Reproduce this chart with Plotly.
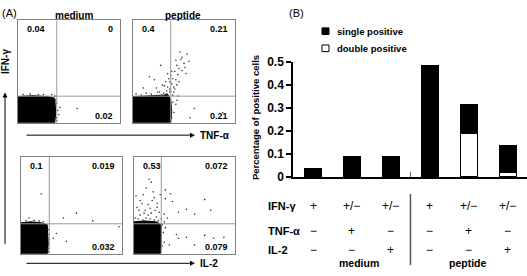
import plotly.graph_objects as go

W, H = 527, 276
FONT = "Liberation Sans, Arial, sans-serif"

# ---------------- Panel B data ----------------
bar_pos = [0, 1, 2, 3, 4, 5]
double_positive = [0.0, 0.0, 0.004, 0.0, 0.19, 0.022]
single_positive = [0.036, 0.09, 0.086, 0.483, 0.125, 0.115]
ifn_row = ["+", "+/−", "+/−", "+", "+/−", "+/−"]
tnf_row = ["−", "+", "−", "−", "+", "−"]
il2_row = ["−", "−", "+", "−", "−", "+"]
row_names = ["IFN-γ", "TNF-α", "IL-2"]
groups = ["medium", "peptide"]
y_ticks = [0, 0.1, 0.2, 0.3, 0.4, 0.5]
y_tick_labels = ["0", "0.1", "0.2", "0.3", "0.4", "0.5"]

# ---------------- Panel A data (normalised channel units 0..1) ----------------
panel_titles = ["medium", "peptide"]
# quadrant percentages: upper-left, upper-right, lower-right
quad_vals = [["0.04", "0", "0.02"],
             ["0.4", "0.21", "0.21"],
             ["0.1", "0.019", "0.032"],
             ["0.53", "0.072", "0.079"]]
quad_gates = [(0.38, 0.26), (0.37, 0.26), (0.28, 0.31), (0.27, 0.31)]

blob_a1 = [(0, 0), (0.36, 0), (0.37, 0.10), (0.36, 0.24), (0.30, 0.255), (0.15, 0.265), (0.05, 0.26), (0, 0.255)]
blob_a2 = [(0, 0), (0.37, 0), (0.38, 0.12), (0.37, 0.22), (0.34, 0.28), (0.30, 0.27), (0.2, 0.265), (0.08, 0.26), (0, 0.255)]
blob_a3 = [(0, 0), (0.26, 0), (0.27, 0.10), (0.26, 0.30), (0.2, 0.32), (0.1, 0.33), (0, 0.32)]
blob_a4 = [(0, 0), (0.26, 0), (0.27, 0.10), (0.27, 0.30), (0.22, 0.33), (0.1, 0.34), (0, 0.33)]

dots_a1 = [(0.58, 0.14), (0.38, 0.05), (0.39, 0.12), (0.38, 0.19), (0.40, 0.08), (0.37, 0.22),
           (0.33, 0.275), (0.25, 0.275), (0.12, 0.28), (0.05, 0.275), (0.20, 0.275), (0.41, 0.15),
           (0.38, 0.02), (0.36, 0.26)]
dots_a2 = [(0.46, 0.69), (0.48, 0.64), (0.53, 0.67), (0.42, 0.61), (0.43, 0.56), (0.45, 0.53),
           (0.38, 0.50), (0.37, 0.46), (0.35, 0.43), (0.32, 0.40), (0.34, 0.48), (0.29, 0.37),
           (0.27, 0.56), (0.16, 0.45), (0.21, 0.42), (0.23, 0.34), (0.10, 0.34), (0.38, 0.38),
           (0.42, 0.42), (0.48, 0.51), (0.51, 0.54), (0.40, 0.30), (0.43, 0.22), (0.42, 0.18),
           (0.56, 0.05), (0.50, 0.58), (0.44, 0.47), (0.40, 0.35), (0.36, 0.33), (0.33, 0.31),
           (0.30, 0.29), (0.26, 0.30), (0.31, 0.36), (0.39, 0.27), (0.41, 0.33), (0.45, 0.40),
           (0.03, 0.28), (0.08, 0.27), (0.13, 0.29), (0.18, 0.28), (0.24, 0.30), (0.28, 0.27),
           (0.33, 0.28), (0.36, 0.30), (0.39, 0.20), (0.40, 0.10), (0.38, 0.05), (0.55, 0.60),
           (0.60, 0.14), (0.88, 0.10), (0.47, 0.62), (0.52, 0.48), (0.36, 0.40), (0.44, 0.26),
           (0.34, 0.35), (0.37, 0.31), (0.39, 0.43), (0.41, 0.50), (0.43, 0.37), (0.35, 0.26)]
dots_a3 = [(0.20, 0.62), (0.55, 0.42), (0.42, 0.37), (0.71, 0.34), (0.35, 0.21), (0.45, 0.13),
           (0.97, 0.28), (0.32, 0.16), (0.08, 0.37), (0.18, 0.34), (0.27, 0.05), (0.28, 0.15),
           (0.27, 0.25), (0.05, 0.34), (0.13, 0.345), (0.22, 0.33), (0.28, 0.20), (0.27, 0.02)]
dots_a4 = [(0.15, 0.77), (0.17, 0.74), (0.12, 0.68), (0.19, 0.64), (0.09, 0.61), (0.06, 0.55),
           (0.20, 0.58), (0.14, 0.51), (0.03, 0.48), (0.23, 0.48), (0.11, 0.45), (0.17, 0.42),
           (0.06, 0.40), (0.22, 0.38), (0.01, 0.37), (0.12, 0.37), (0.26, 0.61), (0.25, 0.43),
           (0.31, 0.66), (0.36, 0.62), (0.31, 0.57), (0.38, 0.54), (0.52, 0.46), (0.70, 0.56),
           (0.76, 0.45), (0.60, 0.41), (0.44, 0.43), (0.30, 0.41), (0.33, 0.37), (0.31, 0.27),
           (0.42, 0.20), (0.52, 0.17), (0.70, 0.19), (0.89, 0.17), (0.30, 0.12), (0.35, 0.09),
           (0.44, 0.16), (0.60, 0.09), (0.79, 0.16), (0.04, 0.36), (0.09, 0.35), (0.16, 0.36),
           (0.20, 0.35), (0.24, 0.34), (0.08, 0.52), (0.02, 0.60), (0.18, 0.55), (0.10, 0.42),
           (0.21, 0.45), (0.28, 0.30), (0.29, 0.22), (0.28, 0.08), (0.30, 0.33), (0.14, 0.40),
           (0.05, 0.45), (0.23, 0.52), (0.16, 0.47), (0.27, 0.36)]

blobs = [blob_a1, blob_a2, blob_a3, blob_a4]
dots = [dots_a1, dots_a2, dots_a3, dots_a4]


def px(x):
    return x / W


def py(y):
    return 1 - y / H


# box positions in pixels (left, right, top, bottom)
boxes = [(18, 120, 14, 122), (133, 235, 14, 122), (21, 122, 158, 260), (134, 235, 158, 260)]

fig = go.Figure()
layout = dict(width=W, height=H, margin=dict(l=0, r=0, t=0, b=0),
              paper_bgcolor="white", plot_bgcolor="white", showlegend=False,
              font=dict(family=FONT, color="black"))
shapes = []
annotations = []


def txt(x, y, s, size, bold=True, xa="center", ya="middle", xref="paper", yref="paper", angle=0):
    annotations.append(dict(x=x, y=y, text=s, xref=xref, yref=yref, showarrow=False,
                            xanchor=xa, yanchor=ya, textangle=angle,
                            font=dict(family=FONT, size=size, color="black",
                                      weight="bold" if bold else "normal")))


for i, (l, r, t, b) in enumerate(boxes):
    n = "" if i == 0 else str(i + 1)
    ax = dict(domain=[px(l), px(r)], range=[0, 1], showline=True, mirror=True,
              linecolor="#808080", linewidth=1, showgrid=False, zeroline=False,
              showticklabels=False, ticks="", fixedrange=True)
    layout["xaxis" + n] = dict(ax, anchor="y" + n)
    layout["yaxis" + n] = dict(ax, domain=[py(b), py(t)], anchor="x" + n)
    bx = [p[0] for p in blobs[i]]
    by = [p[1] for p in blobs[i]]
    fig.add_trace(go.Scatter(x=bx, y=by, fill="toself", fillcolor="black", mode="lines",
                             line=dict(color="black", width=1), xaxis="x" + n, yaxis="y" + n,
                             hoverinfo="skip"))
    fig.add_trace(go.Scatter(x=[p[0] for p in dots[i]], y=[p[1] for p in dots[i]], mode="markers",
                             marker=dict(color="#333333", size=1.6),
                             xaxis="x" + n, yaxis="y" + n, cliponaxis=True))
    gx, gy = quad_gates[i]
    shapes.append(dict(type="line", xref="x" + n, yref="y" + n, x0=gx, x1=gx, y0=0, y1=1,
                       line=dict(color="#9a9a9a", width=1)))
    shapes.append(dict(type="line", xref="x" + n, yref="y" + n, x0=0, x1=1, y0=gy, y1=gy,
                       line=dict(color="#9a9a9a", width=1)))
    ul, ur, lr = quad_vals[i]
    txt(px(l + 7), py(t + 9), ul, 9, xa="left")
    txt(px(r - 5), py(t + 9), ur, 9, xa="right")
    txt(px(r - 5), py(b - 7), lr, 9, xa="right")

# panel A titles and labels
txt(px(74), py(9), panel_titles[0], 10)
txt(px(183), py(9), panel_titles[1], 10)
txt(px(0), py(6), "(A)", 11, bold=False, xa="left")
txt(px(198), py(135), "TNF-α", 10, xa="left")
txt(px(198), py(270), "IL-2", 10, xa="left")
txt(px(5), py(58), "IFN-γ", 10, angle=-90)

# arrows
for (hx, hy, axo, ayo) in [(195, 135, -170, 0), (195, 270, -170, 0), (5, 90, 0, 153)]:
    annotations.append(dict(x=px(hx), y=py(hy), xref="paper", yref="paper", text="",
                            showarrow=True, ax=axo, ay=ayo, axref="pixel", ayref="pixel",
                            arrowhead=2, arrowsize=1, arrowwidth=1, arrowcolor="black"))

# ---------------- Panel B ----------------
fig.add_trace(go.Bar(x=bar_pos, y=double_positive, width=0.43, xaxis="x5", yaxis="y5",
                     marker=dict(color="white", line=dict(color="black", width=1.5)),
                     name="double positive"))
fig.add_trace(go.Bar(x=bar_pos, y=single_positive, width=0.43, xaxis="x5", yaxis="y5",
                     marker=dict(color="black", line=dict(color="black", width=1)),
                     name="single positive"))
layout["barmode"] = "stack"
layout["xaxis5"] = dict(domain=[px(293), 1], range=[-0.513, 5.49], anchor="y5",
                        showline=True, linecolor="black", linewidth=1.5, showgrid=False,
                        zeroline=False, showticklabels=False, ticks="", fixedrange=True)
layout["yaxis5"] = dict(domain=[py(179), py(58)], range=[0, 0.5], anchor="x5",
                        showline=True, linecolor="black", linewidth=1.5, showgrid=False,
                        zeroline=False, ticks="outside", ticklen=5, tickwidth=1.5,
                        tickcolor="black", tickvals=y_ticks, ticktext=y_tick_labels,
                        tickfont=dict(family=FONT, size=12, weight="bold"), fixedrange=True)

txt(px(255), py(117), "Percentage of positive cells", 9.5, angle=-90)
txt(px(287), py(6), "(B)", 11, bold=False, xa="left")

# legend (manual)
shapes.append(dict(type="rect", xref="paper", yref="paper", x0=px(322), x1=px(329), y0=py(29), y1=py(22),
                   fillcolor="black", line=dict(color="black", width=1)))
shapes.append(dict(type="rect", xref="paper", yref="paper", x0=px(322), x1=px(329), y0=py(47), y1=py(40),
                   fillcolor="white", line=dict(color="black", width=1)))
txt(px(335), py(25.5), "single positive", 9.5, xa="left")
txt(px(335), py(43.5), "double positive", 9.5, xa="left")

# table under the bars
row_y = [210, 236, 256]
for ry, name, row in zip(row_y, row_names, [ifn_row, tnf_row, il2_row]):
    txt(px(266), py(ry), name, 11, xa="left")
    for xpos, s in zip(bar_pos, row):
        txt(xpos, py(ry), s, 12, bold=False, xref="x5")
txt(px(359), py(270), groups[0], 10.5)
txt(px(467), py(270), groups[1], 10.5)

shapes.append(dict(type="line", xref="x5", yref="paper", x0=2.5, x1=2.5, y0=py(272), y1=py(197),
                   line=dict(color="#555555", width=1.5)))
shapes.append(dict(type="line", xref="x5", yref="y5", x0=2.5, x1=2.5, y0=0, y1=0.022,
                   line=dict(color="#555555", width=1)))

layout["shapes"] = shapes
layout["annotations"] = annotations
fig.update_layout(**layout)
fig.write_html("out.html", config={"displayModeBar": False},
               post_script="document.body.style.margin='0px';document.body.style.overflow='hidden';")
